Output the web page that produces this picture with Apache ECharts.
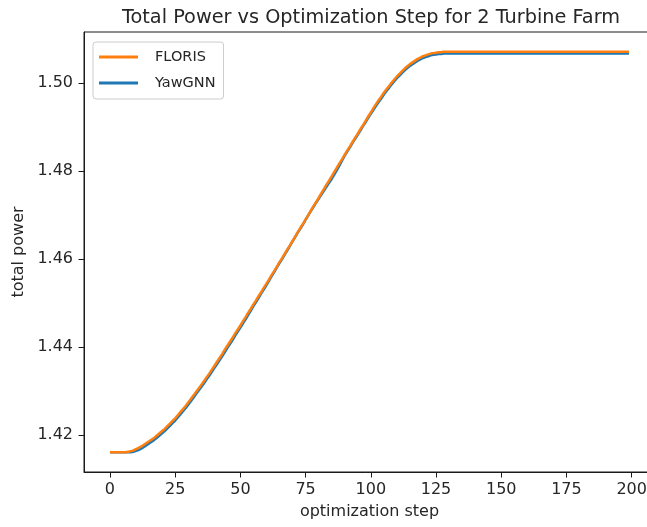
<!DOCTYPE html>
<html>
<head>
<meta charset="utf-8">
<script src="https://cdn.jsdelivr.net/npm/echarts@6.0.0/dist/echarts.min.js"></script>
<style>
html,body{margin:0;padding:0;background:#fff;}
#chart{width:647px;height:527px;}
</style>
</head>
<body>
<div id="chart"></div>
<script>
const titleText = 'Total Power vs Optimization Step for 2 Turbine Farm';
const seriesNames = ['FLORIS', 'YawGNN'];
const xTicks = [0, 25, 50, 75, 100, 125, 150, 175, 200];
const yTicks = [1.42, 1.44, 1.46, 1.48, 1.50];

// FLORIS total power, steps 0..199
const floris = [
1.4161,1.4161,1.4161,1.4161,1.4161,1.4161,1.4161,1.4162,1.4163,1.4165,
1.4168,1.4171,1.4174,1.4178,1.4182,1.4186,1.4190,1.4194,1.4199,1.4204,
1.4209,1.4214,1.4220,1.4226,1.4232,1.4238,1.4245,1.4252,1.4259,1.4266,
1.4274,1.4282,1.4290,1.4298,1.4306,1.4314,1.4322,1.4331,1.4339,1.4348,
1.4357,1.4366,1.4375,1.4384,1.4394,1.4403,1.4412,1.4421,1.4431,1.4440,
1.4449,1.4459,1.4468,1.4478,1.4487,1.4497,1.4506,1.4516,1.4525,1.4535,
1.4544,1.4554,1.4564,1.4573,1.4583,1.4593,1.4602,1.4612,1.4622,1.4631,
1.4641,1.4651,1.4661,1.4671,1.4680,1.4690,1.4700,1.4710,1.4720,1.4729,
1.4739,1.4749,1.4759,1.4769,1.4778,1.4788,1.4798,1.4808,1.4818,1.4827,
1.4837,1.4847,1.4856,1.4866,1.4876,1.4885,1.4895,1.4904,1.4914,1.4924,
1.4933,1.4943,1.4952,1.4961,1.4969,1.4978,1.4986,1.4993,1.5001,1.5008,
1.5015,1.5021,1.5027,1.5033,1.5038,1.5043,1.5047,1.5051,1.5055,1.5058,
1.5061,1.5063,1.5065,1.5067,1.5068,1.5069,1.5070,1.5070,1.5071,1.5071,
1.5071,1.5071,1.5071,1.5071,1.5071,1.5071,1.5071,1.5071,1.5071,1.5071,
1.5071,1.5071,1.5071,1.5071,1.5071,1.5071,1.5071,1.5071,1.5071,1.5071,
1.5071,1.5071,1.5071,1.5071,1.5071,1.5071,1.5071,1.5071,1.5071,1.5071,
1.5071,1.5071,1.5071,1.5071,1.5071,1.5071,1.5071,1.5071,1.5071,1.5071,
1.5071,1.5071,1.5071,1.5071,1.5071,1.5071,1.5071,1.5071,1.5071,1.5071,
1.5071,1.5071,1.5071,1.5071,1.5071,1.5071,1.5071,1.5071,1.5071,1.5071,
1.5071,1.5071,1.5071,1.5071,1.5071,1.5071,1.5071,1.5071,1.5071,1.5071
];

// YawGNN total power, steps 0..199
const yawgnn = [
1.4161,1.4161,1.4161,1.4161,1.4161,1.4161,1.4161,1.4161,1.4161,1.4162,
1.4164,1.4166,1.4169,1.4173,1.4177,1.4181,1.4185,1.4189,1.4194,1.4199,
1.4204,1.4209,1.4215,1.4221,1.4227,1.4233,1.4240,1.4247,1.4254,1.4261,
1.4269,1.4277,1.4285,1.4293,1.4301,1.4309,1.4317,1.4326,1.4334,1.4343,
1.4352,1.4361,1.4370,1.4379,1.4388,1.4398,1.4407,1.4416,1.4426,1.4435,
1.4444,1.4454,1.4463,1.4473,1.4483,1.4493,1.4502,1.4512,1.4522,1.4531,
1.4541,1.4551,1.4561,1.4571,1.4581,1.4591,1.4600,1.4610,1.4620,1.4630,
1.4640,1.4650,1.4660,1.4669,1.4679,1.4689,1.4699,1.4709,1.4718,1.4728,
1.4737,1.4746,1.4755,1.4764,1.4773,1.4782,1.4792,1.4802,1.4813,1.4824,
1.4835,1.4845,1.4854,1.4864,1.4873,1.4883,1.4892,1.4902,1.4911,1.4921,
1.4930,1.4939,1.4948,1.4957,1.4965,1.4974,1.4982,1.4989,1.4997,1.5004,
1.5011,1.5017,1.5023,1.5029,1.5034,1.5039,1.5043,1.5047,1.5051,1.5054,
1.5057,1.5059,1.5061,1.5063,1.5064,1.5065,1.5066,1.5066,1.5067,1.5067,
1.5067,1.5067,1.5067,1.5067,1.5067,1.5067,1.5067,1.5067,1.5067,1.5067,
1.5067,1.5067,1.5067,1.5067,1.5067,1.5067,1.5067,1.5067,1.5067,1.5067,
1.5067,1.5067,1.5067,1.5067,1.5067,1.5067,1.5067,1.5067,1.5067,1.5067,
1.5067,1.5067,1.5067,1.5067,1.5067,1.5067,1.5067,1.5067,1.5067,1.5067,
1.5067,1.5067,1.5067,1.5067,1.5067,1.5067,1.5067,1.5067,1.5067,1.5067,
1.5067,1.5067,1.5067,1.5067,1.5067,1.5067,1.5067,1.5067,1.5067,1.5067,
1.5067,1.5067,1.5067,1.5067,1.5067,1.5067,1.5067,1.5067,1.5067,1.5067
];

const FONT = 'DejaVu Sans';
const TXT = '#262626';
const pairs = arr => arr.map((v, i) => [i, v]);

const chart = echarts.init(document.getElementById('chart'), null, {renderer: 'canvas'});
chart.setOption({
  animation: false,
  backgroundColor: '#fff',
  title: {
    text: titleText,
    left: 366, top: 3, textAlign: 'center',
    textStyle: {fontFamily: FONT, fontSize: 19.3, fontWeight: 'normal', color: TXT}
  },
  legend: {
    orient: 'vertical',
    left: 93, top: 42,
    data: seriesNames,
    icon: 'rect',
    itemWidth: 39, itemHeight: 3,
    itemGap: 8,
    padding: [6, 8, 7, 6],
    borderColor: '#cccccc', borderWidth: 1, borderRadius: 3,
    backgroundColor: 'rgba(255,255,255,0.8)',
    textStyle: {fontFamily: FONT, fontSize: 14.5, color: TXT, lineHeight: 18, padding: [0, 0, 0, 12]}
  },
  grid: {
    left: 84, top: 32, right: -8, bottom: 55,
    show: true, borderColor: '#1a1a1a', borderWidth: 1,
    containLabel: false,
    outerBoundsMode: 'none'
  },
  xAxis: {
    type: 'value',
    min: -9.95, max: 208.95,
    name: 'optimization step',
    nameLocation: 'middle', nameGap: 32,
    nameTextStyle: {fontFamily: FONT, fontSize: 16, color: TXT},
    axisLine: {show: true, onZero: false, lineStyle: {color: '#1a1a1a', width: 1}},
    axisTick: {show: true, length: 5.5, lineStyle: {color: '#1a1a1a'}, customValues: xTicks},
    axisLabel: {fontFamily: FONT, fontSize: 16, color: TXT, margin: 10, customValues: xTicks,
      formatter: v => String(v)},
    splitLine: {show: false}
  },
  yAxis: {
    type: 'value',
    min: 1.4116, max: 1.5116,
    name: 'total power',
    nameLocation: 'middle', nameGap: 56, nameRotate: 90,
    nameTextStyle: {fontFamily: FONT, fontSize: 16, color: TXT},
    axisLine: {show: true, onZero: false, lineStyle: {color: '#1a1a1a', width: 1}},
    axisTick: {show: true, length: 5.5, lineStyle: {color: '#1a1a1a'}, customValues: yTicks},
    axisLabel: {fontFamily: FONT, fontSize: 16, color: TXT, margin: 11, customValues: yTicks,
      formatter: v => v.toFixed(2)},
    splitLine: {show: false}
  },
  series: [
    {
      name: 'YawGNN', type: 'line', data: pairs(yawgnn),
      showSymbol: false, symbol: 'none',
      lineStyle: {color: '#1f77b4', width: 2.5},
      itemStyle: {color: '#1f77b4'}, z: 2
    },
    {
      name: 'FLORIS', type: 'line', data: pairs(floris),
      showSymbol: false, symbol: 'none',
      lineStyle: {color: '#ff7f0e', width: 2.5},
      itemStyle: {color: '#ff7f0e'}, z: 3
    }
  ]
});
</script>
</body>
</html>
